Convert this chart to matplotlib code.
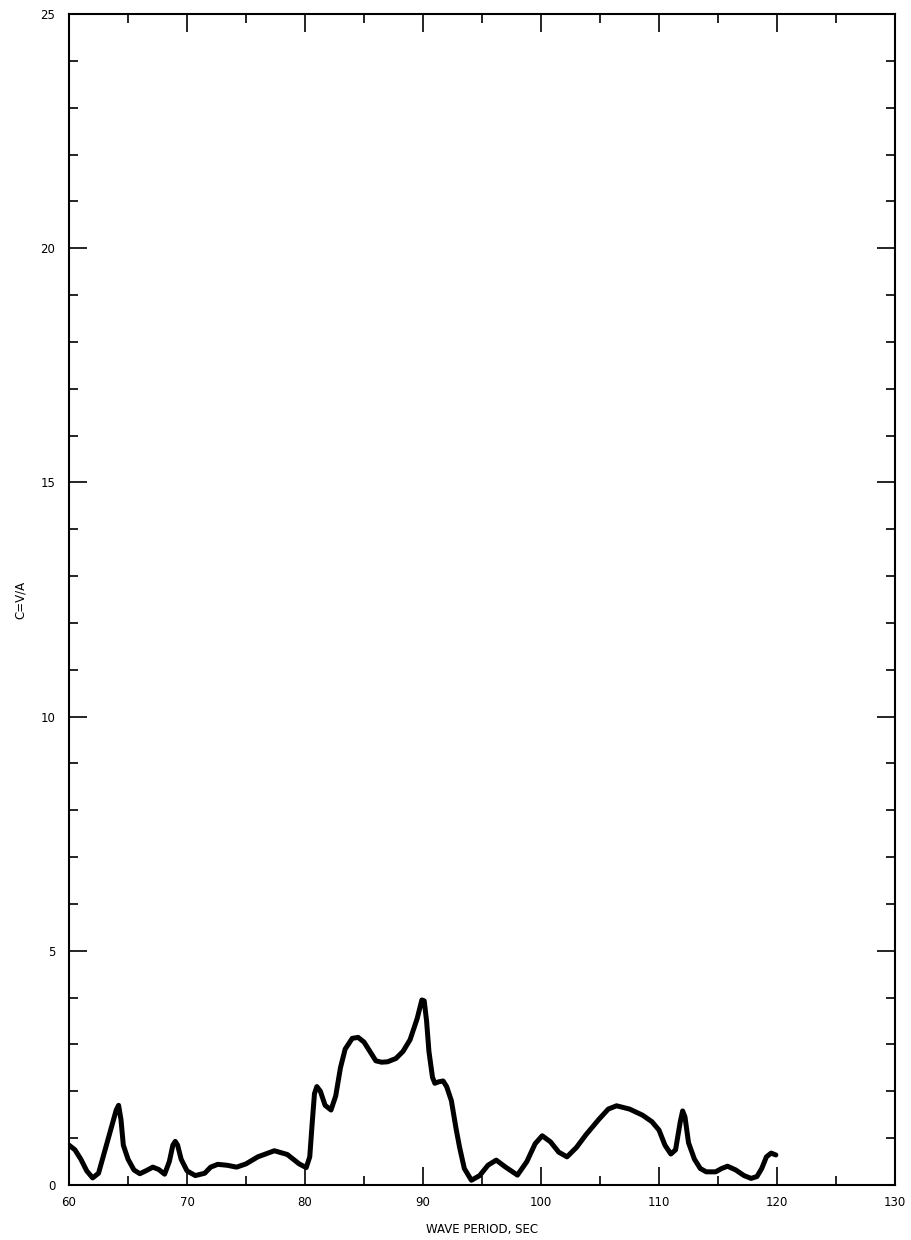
import matplotlib
matplotlib.use("Agg")
import matplotlib.pyplot as plt
from matplotlib.ticker import MultipleLocator

# Wave period (sec) vs C = V/A
period = [60.0, 60.5, 61.0, 61.5, 62.0, 62.5, 63.0, 63.5, 64.0, 64.2, 64.4, 64.6,
          65.0, 65.5, 66.0, 66.5, 67.1, 67.6, 68.1, 68.5, 68.8, 69.0, 69.2, 69.5,
          70.0, 70.7, 71.5, 72.0, 72.6, 73.4, 74.2, 75.0, 76.0, 77.4, 78.5, 79.5,
          80.1, 80.4, 80.6, 80.8, 81.0, 81.3, 81.7, 82.2, 82.6, 83.0, 83.4, 84.0,
          84.5, 85.0, 85.5, 86.0, 86.5, 87.0, 87.7, 88.3, 88.9, 89.5, 89.9, 90.1,
          90.3, 90.5, 90.8, 91.0, 91.3, 91.7, 92.0, 92.4, 92.8, 93.1, 93.5, 94.1,
          94.8, 95.5, 96.2, 97.0, 98.0, 98.8, 99.5, 100.1, 100.8, 101.5, 102.2,
          103.0, 103.8, 104.9, 105.7, 106.4, 107.5, 108.6, 109.4, 110.0, 110.5,
          111.0, 111.4, 111.8, 112.0, 112.2, 112.5, 113.0, 113.5, 114.0, 114.8,
          115.3, 115.8, 116.5, 117.2, 117.8, 118.3, 118.7, 119.1, 119.5, 119.9]
c_ratio = [0.85, 0.75, 0.55, 0.30, 0.15, 0.25, 0.70, 1.15, 1.60, 1.70, 1.40, 0.85,
           0.55, 0.32, 0.24, 0.30, 0.38, 0.33, 0.23, 0.50, 0.85, 0.93, 0.85, 0.55,
           0.30, 0.20, 0.25, 0.38, 0.44, 0.42, 0.38, 0.45, 0.60, 0.73, 0.65, 0.45,
           0.37, 0.60, 1.30, 1.95, 2.10, 2.00, 1.70, 1.60, 1.90, 2.50, 2.90, 3.13,
           3.15, 3.05, 2.85, 2.65, 2.62, 2.63, 2.70, 2.85, 3.10, 3.55, 3.95, 3.93,
           3.50, 2.85, 2.30, 2.17, 2.20, 2.22, 2.10, 1.80, 1.20, 0.80, 0.35, 0.10,
           0.20, 0.42, 0.53, 0.38, 0.21, 0.50, 0.88, 1.05, 0.92, 0.70, 0.60,
           0.80, 1.07, 1.40, 1.62, 1.69, 1.62, 1.49, 1.35, 1.17, 0.85,
           0.66, 0.75, 1.35, 1.58, 1.45, 0.90, 0.55, 0.35, 0.28, 0.28,
           0.35, 0.40, 0.32, 0.20, 0.14, 0.18, 0.35, 0.60, 0.68, 0.64]

x_ticks = [60, 70, 80, 90, 100, 110, 120, 130]
y_ticks = [0, 5, 10, 15, 20, 25]

fig = plt.figure(figsize=(9.12, 12.4), dpi=100)
ax = fig.add_axes([0.0757, 0.0444, 0.9057, 0.9443])

ax.plot(period, c_ratio, color="black", linewidth=3.6,
        solid_joinstyle="round", solid_capstyle="round")

ax.set_xlim(60, 130)
ax.set_ylim(0, 25)
ax.set_xticks(x_ticks)
ax.set_yticks(y_ticks)
ax.xaxis.set_minor_locator(MultipleLocator(5))
ax.yaxis.set_minor_locator(MultipleLocator(1))

ax.tick_params(which="both", direction="in", top=True, right=True,
               width=1.2, color="black", labelsize=8.5)
ax.tick_params(which="major", length=13)
ax.tick_params(which="minor", length=6.5)
ax.tick_params(axis="x", pad=8)
ax.tick_params(axis="y", pad=10)
for lbl in ax.get_xticklabels() + ax.get_yticklabels():
    lbl.set_fontweight("medium")

for s in ax.spines.values():
    s.set_linewidth(1.5)

ax.set_xlabel("WAVE PERIOD, SEC", fontsize=8.5, labelpad=10, fontweight="medium")
ax.set_ylabel("C=V/A", fontsize=8.5, labelpad=10, fontweight="medium")

fig.savefig("out.png", dpi=100, facecolor="white")
